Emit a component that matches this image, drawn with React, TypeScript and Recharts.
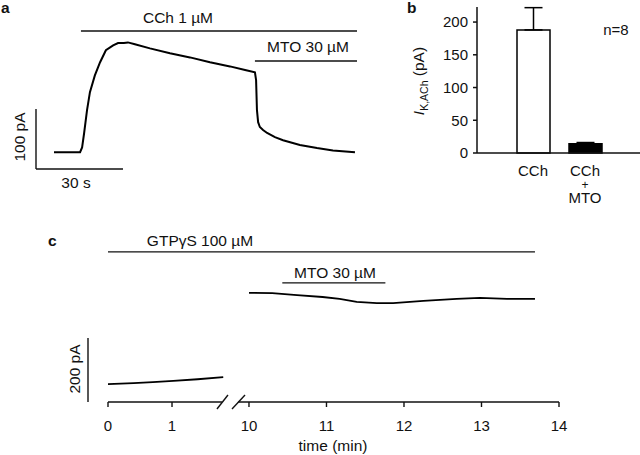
import React from "react";
import {
  Bar,
  BarChart,
  Cell,
  ErrorBar,
  Line,
  LineChart,
  ReferenceLine,
  XAxis,
  YAxis,
} from "recharts";

const FONT = '"Liberation Sans", Arial, sans-serif';
const INK = "#111";

// a: CCh-induced I_K,ACh trace (time in s, current in pA)
const aTime = [
  6.2, 15.2, 15.9, 16.6, 17.6, 18.6, 20.3, 22.1, 24.1, 26.6, 28.3, 30.3, 31.7, 34.1, 39.3, 46.2,
  53.1, 60, 66.9, 72.1, 75.5, 75.9, 76.2, 76.6, 77.2, 78.3, 79.7, 82.4, 85.2, 91, 96.9, 102.4, 110,
];
const aCurrent = [
  0, 0, 8, 32, 70, 100, 128, 150, 170, 178, 182, 182, 183, 180, 173, 165, 158, 150, 143, 137, 133,
  120, 70, 50, 42, 37, 32, 25, 20, 12, 7, 3, 0,
];
const aCChApplied = [15.5, 110.7];
const aMtoApplied = [75.5, 110.7];
const aCChLevel = 202;
const aMtoLevel = 152;

// b: mean amplitude +/- SEM
const bCategories = ["CCh", "CCh+MTO"];
const bMeans = [188, 14];
const bSem = [34, 2];
const bFills = ["#fff", "#000"];
const bTicks = [0, 50, 100, 150, 200];

// c: GTPgammaS-activated current, time in min (broken axis)
const cTickMinutes = [0, 1, 10, 11, 12, 13, 14];
const cLeftTime = [0, 0.4, 0.7, 1.02, 1.4, 1.8];
const cLeftCurrent = [56, 59, 62, 66, 71, 78];
const cRightTime = [10.0, 10.3, 10.62, 10.95, 11.17, 11.39, 11.65, 11.86, 12.25, 12.68, 12.98, 13.33, 13.69];
const cRightCurrent = [341, 340, 334, 328, 322, 313, 309, 309, 316, 322, 325, 322, 322];
const cGtpApplied = [0, 13.69];
const cMtoApplied = [10.43, 11.76];
const cGtpLevel = 469;
const cMtoLevel = 372;

// the first segment (0-2 min) is drawn compressed relative to 10-14 min
const toPos = (t: number) => (t < 5 ? t * 0.826 : 1.819 + (t - 10));

const aData = aTime.map((t, i) => ({ t, v: aCurrent[i] }));
const bData = bCategories.map((name, i) => ({ name, mean: bMeans[i], err: [0, bSem[i]] }));
const cLeft = cLeftTime.map((t, i) => ({ pos: toPos(t), v: cLeftCurrent[i] }));
const cRight = cRightTime.map((t, i) => ({ pos: toPos(t), v: cRightCurrent[i] }));
const cTickPos = cTickMinutes.map(toPos);

const CategoryTick = ({ x, y, payload }: any) => {
  const lines = payload.value === "CCh+MTO" ? ["CCh", "+", "MTO"] : ["CCh"];
  const offsets = [15, 28, 42];
  const sizes = [15, 12, 15];
  return (
    <g>
      {lines.map((s, i) => (
        <text key={i} x={x} y={y + offsets[i]} textAnchor="middle" fontSize={sizes[i]} fontFamily={FONT} fill={INK}>
          {s}
        </text>
      ))}
    </g>
  );
};

const seg = (x1: number, y1: number, x2: number, y2: number, key: string) => (
  <ReferenceLine
    key={key}
    segment={[
      { x: x1, y: y1 },
      { x: x2, y: y2 },
    ]}
    stroke={INK}
    strokeWidth={1.4}
    ifOverflow="visible"
  />
);

const PanelA = () => (
  <LineChart width={640} height={455} margin={{ top: 22, right: 283, bottom: 286, left: 36 }} data={aData}>
    <XAxis dataKey="t" type="number" domain={[0, 110.7]} hide allowDataOverflow />
    <YAxis type="number" domain={[-28, 217]} hide allowDataOverflow />
    {seg(aCChApplied[0], aCChLevel, aCChApplied[1], aCChLevel, "cch")}
    {seg(aMtoApplied[0], aMtoLevel, aMtoApplied[1], aMtoLevel, "mto")}
    {seg(0, -28, 0, 72, "sy")}
    {seg(0, -28, 30, -28, "sx")}
    <Line dataKey="v" stroke="#000" strokeWidth={2} dot={false} isAnimationActive={false} />
  </LineChart>
);

const PanelB = () => (
  <BarChart width={640} height={455} margin={{ top: 7, right: 0, bottom: 252, left: 417 }} data={bData}>
    <XAxis
      dataKey="name"
      padding={{ left: 30, right: 29 }}
      height={50}
      tickLine={false}
      axisLine={{ stroke: INK, strokeWidth: 1.5 }}
      tick={<CategoryTick />}
      interval={0}
    />
    <YAxis
      domain={[0, 223]}
      ticks={bTicks}
      width={60}
      tickSize={4}
      tickMargin={5}
      axisLine={{ stroke: INK, strokeWidth: 1.5 }}
      tickLine={{ stroke: INK, strokeWidth: 1.5 }}
      tick={{ fontSize: 15, fontFamily: FONT, fill: INK }}
    />
    <Bar dataKey="mean" barSize={33} stroke="#000" strokeWidth={1.5} isAnimationActive={false}>
      {bData.map((d, i) => (
        <Cell key={d.name} fill={bFills[i]} />
      ))}
      <ErrorBar dataKey="err" width={9} stroke="#000" strokeWidth={1.5} direction="y" />
    </Bar>
  </BarChart>
);

const PanelC = () => (
  <LineChart width={640} height={455} margin={{ top: 240, right: 81, bottom: 13, left: 88 }}>
    <XAxis
      dataKey="pos"
      type="number"
      domain={[-0.258, 5.819]}
      allowDataOverflow
      ticks={cTickPos}
      interval={0}
      tickFormatter={(p: number) => String(cTickMinutes[cTickPos.indexOf(p)])}
      height={40}
      axisLine={false}
      tickSize={5}
      tickMargin={13}
      tickLine={{ stroke: INK, strokeWidth: 1.4 }}
      tick={{ fontSize: 15, fontFamily: FONT, fill: INK }}
    />
    <YAxis type="number" domain={[0, 506]} hide allowDataOverflow />
    {seg(toPos(cGtpApplied[0]), cGtpLevel, toPos(cGtpApplied[1]), cGtpLevel, "gtp")}
    {seg(toPos(cMtoApplied[0]), cMtoLevel, toPos(cMtoApplied[1]), cMtoLevel, "mto")}
    {seg(-0.258, 0, -0.258, 200, "sy")}
    {seg(0, 0, 1.47, 0, "ax1")}
    {seg(1.68, 0, 5.819, 0, "ax2")}
    {seg(1.406, -22, 1.548, 22, "br1")}
    {seg(1.6, -22, 1.768, 22, "br2")}
    <Line data={cLeft} dataKey="v" stroke="#000" strokeWidth={1.8} dot={false} isAnimationActive={false} />
    <Line data={cRight} dataKey="v" stroke="#000" strokeWidth={1.8} dot={false} isAnimationActive={false} />
  </LineChart>
);

const Labels = () => {
  const t = { fontFamily: FONT, fontSize: 15.5, fill: INK };
  return (
    <svg width={640} height={455} style={{ position: "absolute", left: 0, top: 0, pointerEvents: "none" }}>
      <text x={1} y={13} {...t} fontWeight="bold">a</text>
      <text x={178} y={23} {...t} textAnchor="middle">CCh 1 µM</text>
      <text x={308} y={52} {...t} textAnchor="middle">MTO 30 µM</text>
      <text transform="translate(25,137) rotate(-90)" {...t} textAnchor="middle">100 pA</text>
      <text x={76} y={188} {...t} textAnchor="middle">30 s</text>

      <text x={407} y={13} {...t} fontWeight="bold">b</text>
      <text x={616} y={35} {...t} fontSize={15} textAnchor="middle">n=8</text>
      <text transform="translate(424,81) rotate(-90)" {...t} textAnchor="middle">
        <tspan fontStyle="italic">I</tspan>
        <tspan fontSize={10.5} dy={4}>K,ACh</tspan>
        <tspan dy={-4}> (pA)</tspan>
      </text>

      <text x={48} y={246} {...t} fontWeight="bold">c</text>
      <text x={200} y={246} {...t} textAnchor="middle">GTPγS 100 µM</text>
      <text x={335} y={278} {...t} textAnchor="middle">MTO 30 µM</text>
      <text transform="translate(80,369) rotate(-90)" {...t} textAnchor="middle">200 pA</text>
      <text x={333} y={451} {...t} textAnchor="middle">time (min)</text>
    </svg>
  );
};

export default function App() {
  const layer: React.CSSProperties = { position: "absolute", left: 0, top: 0 };
  return (
    <div style={{ position: "absolute", left: 0, top: 0, width: 640, height: 455, background: "#fff" }}>
      <div style={layer}>
        <PanelA />
      </div>
      <div style={layer}>
        <PanelB />
      </div>
      <div style={layer}>
        <PanelC />
      </div>
      <Labels />
    </div>
  );
}
